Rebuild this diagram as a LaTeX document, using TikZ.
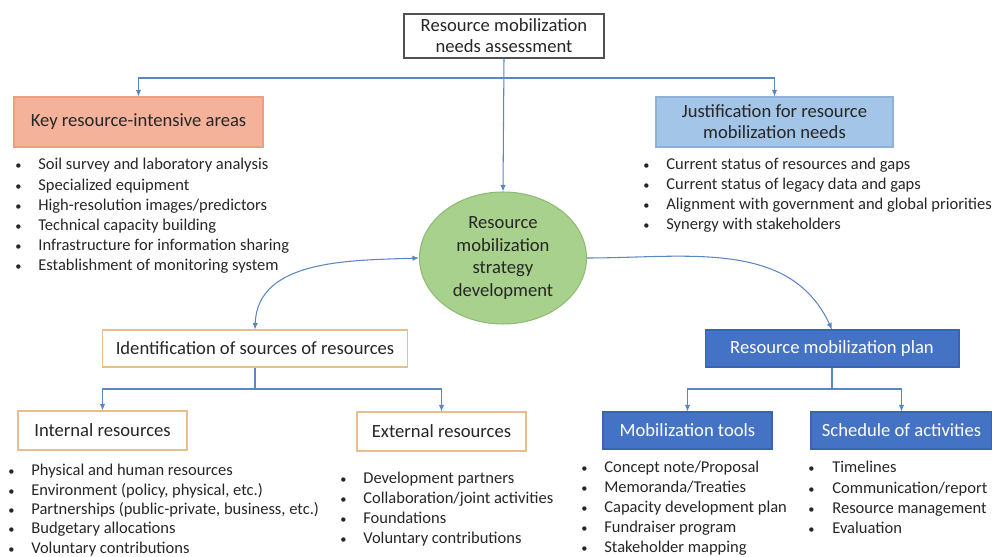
\documentclass[tikz,border=0pt]{standalone}
\usepackage{fontspec}
\setmainfont{Carlito}
\usepackage{xcolor}
\usepackage{tikz}
\usetikzlibrary{arrows.meta,shapes.geometric}

\definecolor{inkc}{HTML}{262626}
\definecolor{linec}{HTML}{5A86C4}
\definecolor{keyfill}{HTML}{F5B29B}
\definecolor{keyedge}{HTML}{EDA07F}
\definecolor{justfill}{HTML}{A3C5E8}
\definecolor{justedge}{HTML}{8EB1DA}
\definecolor{stratfill}{HTML}{A9D18E}
\definecolor{stratedge}{HTML}{8DBB72}
\definecolor{tanedge}{HTML}{E9BE8F}
\definecolor{planfill}{HTML}{4472C4}
\definecolor{planedge}{HTML}{3A64B0}

\newcommand{\bul}[1][0.46cm]{\makebox[#1][l]{\scalebox{0.75}{\textbullet}}}

\begin{document}
\begin{tikzpicture}[x=0.02cm,y=-0.02cm,
  every node/.style={font=\fontsize{10.6}{12}\selectfont, text=inkc},
  box/.style={draw, line width=0.6pt, align=center, inner sep=1pt},
  item/.style={anchor=west, inner sep=0pt, text height=1.6ex, text depth=0.45ex,
    font=\fontsize{9.4}{11}\selectfont},
  conn/.style={draw=linec, line width=0.6pt, -{Latex[length=1.3mm,width=1.1mm]}}]
  \useasboundingbox (0,0) rectangle (992,557);
  % Top box
  \node[box, draw=inkc!80, fill=white, minimum width=4cm, minimum height=0.88cm] (need) at (504,36)
    {Resource mobilization\\needs assessment};
  % Two areas
  \node[box, draw=keyedge, fill=keyfill, minimum width=4.98cm, minimum height=1cm] (key) at (138.5,122)
    {Key resource-intensive areas};
  \node[box, draw=justedge, fill=justfill, minimum width=4.74cm, minimum height=1cm] (just) at (774.5,122)
    {Justification for resource\\mobilization needs};
  % Strategy
  \node[ellipse, draw=stratedge, line width=0.6pt, fill=stratfill, align=center, inner sep=0pt,
    minimum width=3.34cm, minimum height=2.64cm, font=\fontsize{10.6}{12.8}\selectfont] (strat) at (503,258)
    {Resource\\mobilization\\strategy\\development};
  % Sources
  \node[box, draw=tanedge, fill=white, minimum width=6.12cm, minimum height=0.74cm] (ident) at (255,348.5)
    {Identification of sources of resources};
  \node[box, draw=tanedge, fill=white, minimum width=3.38cm, minimum height=0.78cm] (intern) at (102.5,430.5)
    {Internal resources};
  \node[box, draw=tanedge, fill=white, minimum width=3.38cm, minimum height=0.78cm] (extern) at (441.5,431.5)
    {External resources};
  % Plan
  \node[box, draw=planedge, fill=planfill, text=white, minimum width=5.08cm, minimum height=0.74cm] (plan) at (832,348.5)
    {Resource mobilization plan};
  \node[box, draw=planedge, fill=planfill, text=white, minimum width=3.38cm, minimum height=0.74cm] (tools) at (687.5,430.5)
    {Mobilization tools};
  \node[box, draw=planedge, fill=planfill, text=white, minimum width=3.62cm, minimum height=0.74cm] (sched) at (901.5,430.5)
    {Schedule of activities};

  % Connectors
  \coordinate (split1) at (504,78);
  \coordinate (split2) at (255,389);
  \coordinate (split3) at (832,389);
  \draw[conn] (need.south) -- (strat.north);
  \draw[conn] (split1) -| (key.north);
  \draw[conn] (split1) -| (just.north);
  \draw[conn, {Latex[length=1.3mm,width=1.1mm]}-{Latex[length=1.3mm,width=1.1mm]}]
    (ident.north) to[out=88,in=182] (strat.west);
  \draw[conn] (strat.east) to[out=0,in=115] (plan.north);
  \draw[draw=linec, line width=0.6pt] (ident.south) -- (split2);
  \draw[conn] (split2) -| (intern.north);
  \draw[conn] (split2) -| (extern.north);
  \draw[draw=linec, line width=0.6pt] (plan.south) -- (split3);
  \draw[conn] (split3) -| (tools.north);
  \draw[conn] (split3) -| (sched.north);

  % Bullet lists
  \foreach \txt [count=\i] in {Soil survey and laboratory analysis, Specialized equipment,
      High-resolution images/predictors, Technical capacity building,
      Infrastructure for information sharing, Establishment of monitoring system}
    \node[item] (keylist-\i) at (15,165+20.2*\i-20.2) {\bul\txt};
  \foreach \txt [count=\i] in {Current status of resources and gaps, Current status of legacy data and gaps,
      Alignment with government and global priorities, Synergy with stakeholders}
    \node[item] (justlist-\i) at (643,165+20*\i-20) {\bul\txt};
  \foreach \txt [count=\i] in {Physical and human resources, {Environment (policy, physical, etc.)},
      {Partnerships (public-private, business, etc.)}, Budgetary allocations, Voluntary contributions}
    \node[item] (internlist-\i) at (8,471+19.3*\i-19.3) {\bul\txt};
  \foreach \txt [count=\i] in {Development partners, Collaboration/joint activities,
      Foundations, Voluntary contributions}
    \node[item] (externlist-\i) at (340,479+20*\i-20) {\bul\txt};
  \foreach \txt [count=\i] in {Concept note/Proposal, Memoranda/Treaties, Capacity development plan,
      Fundraiser program, Stakeholder mapping}
    \node[item] (toolslist-\i) at (581,468+20*\i-20) {\bul\txt};
  \foreach \txt [count=\i] in {Timelines, Communication/report, Resource management, Evaluation}
    \node[item] (schedlist-\i) at (808,468+20.3*\i-20.3) {\bul[0.48cm]\txt};
\end{tikzpicture}
\end{document}
